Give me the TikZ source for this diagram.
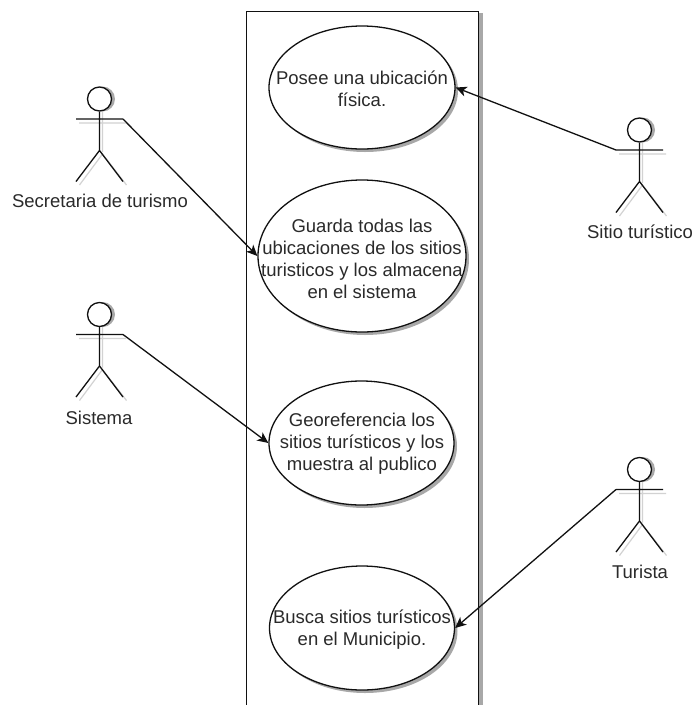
\documentclass[tikz,border=0pt]{standalone}
\usepackage{fontspec}
\setmainfont{Liberation Sans}
\usetikzlibrary{shapes.geometric,arrows.meta}
\definecolor{ink}{HTML}{111111}
\definecolor{txtc}{HTML}{2A2A2A}
\definecolor{shad}{HTML}{A8A8A8}
\definecolor{shadl}{HTML}{D2D2D2}
\tikzset{
  x=1pt,y=-1pt,
  ink line/.style={draw=ink,line width=1.3pt},
  sysbox/.style={rectangle,ink line,fill=white,minimum width=232pt,minimum height=740pt,inner sep=0pt,anchor=north west},
  sysshadow/.style={rectangle,fill=shad,minimum width=235pt,minimum height=740pt,inner sep=0pt,anchor=north west},
  usecase/.style={ellipse,ink line,fill=white,inner sep=0pt},
  usecaseshadow/.style={ellipse,fill=shad,inner sep=0pt},
  uctext/.style={align=center,text=txtc,font=\fontsize{18.5pt}{22pt}\selectfont,inner sep=0pt},
  actorlabel/.style={text=txtc,font=\fontsize{18.5pt}{22pt}\selectfont,inner sep=0pt},
  assoc/.style={ink line,-{Stealth[length=11pt,width=10pt,inset=3pt]}},
  actor/.pic={
    \fill[shad] (3,-20) circle (12.5);
    \draw[shadl,line width=1.2pt] (-20.5,4) -- (26.5,4) (3,-8) -- (3,33) (-20,66) -- (3,35) -- (27,66);
    \node[circle,ink line,fill=white,minimum size=24pt,inner sep=0pt] (-head) at (0,-20) {};
    \draw[ink line] (-23.5,0) -- (23.5,0) (-head.south) -- (0,31.5) (-23.5,62.5) -- (0,31.5) -- (23.5,62.5);
    \coordinate (-left) at (-23.5,0);
    \coordinate (-right) at (23.5,0);
  }
}
\begin{document}
\begin{tikzpicture}
\useasboundingbox (0,0) rectangle (693,705);
\clip (0,0) rectangle (693,705);
\fill[white] (0,0) rectangle (693,705);
% system boundary
\node[sysshadow] (boxs) at (248,13) {};
\node[sysbox] (box) at (246,11) {};
% use cases
\node[usecaseshadow,minimum width=186pt,minimum height=123pt] (s1) at (365,90.5) {};
\node[usecaseshadow,minimum width=208pt,minimum height=152pt] (s2) at (365,259) {};
\node[usecaseshadow,minimum width=185pt,minimum height=124pt] (s3) at (364.5,446) {};
\node[usecaseshadow,minimum width=185pt,minimum height=124pt] (s4) at (365,631) {};
\node[usecase,minimum width=186pt,minimum height=123pt] (e1) at (362,87.5) {};
\node[usecase,minimum width=208pt,minimum height=152pt] (e2) at (362,256) {};
\node[usecase,minimum width=185pt,minimum height=124pt] (e3) at (361.5,443) {};
\node[usecase,minimum width=185pt,minimum height=124pt] (e4) at (362,628) {};
\node[uctext] (t1) at (362,89) {Posee una ubicación\\física.};
\node[uctext] (t2) at (362,259) {Guarda todas las\\ubicaciones de los sitios\\turisticos y los almacena\\en el sistema};
\node[uctext] (t3) at (362,444) {Georeferencia los\\sitios turísticos y los\\muestra al publico};
\node[uctext] (t4) at (362,629.5) {Busca sitios turísticos\\en el Municipio.};
% actors
\pic (a1) at (99.5,119) {actor};
\pic (a2) at (99.5,334.5) {actor};
\pic (a3) at (639.5,150) {actor};
\pic (a4) at (639.5,489.5) {actor};
\node[actorlabel] (l1) at (100,201) {Secretaria de turismo};
\node[actorlabel] (l2) at (99,418) {Sistema};
\node[actorlabel] (l3) at (640,232) {Sitio turístico};
\node[actorlabel] (l4) at (640,572) {Turista};
% associations
\draw[assoc] (a1-right) -- (e2.west);
\draw[assoc] (a2-right) -- (e3.west);
\draw[assoc] (a3-left) -- (e1.east);
\draw[assoc] (a4-left) -- (e4.east);
\end{tikzpicture}
\end{document}
